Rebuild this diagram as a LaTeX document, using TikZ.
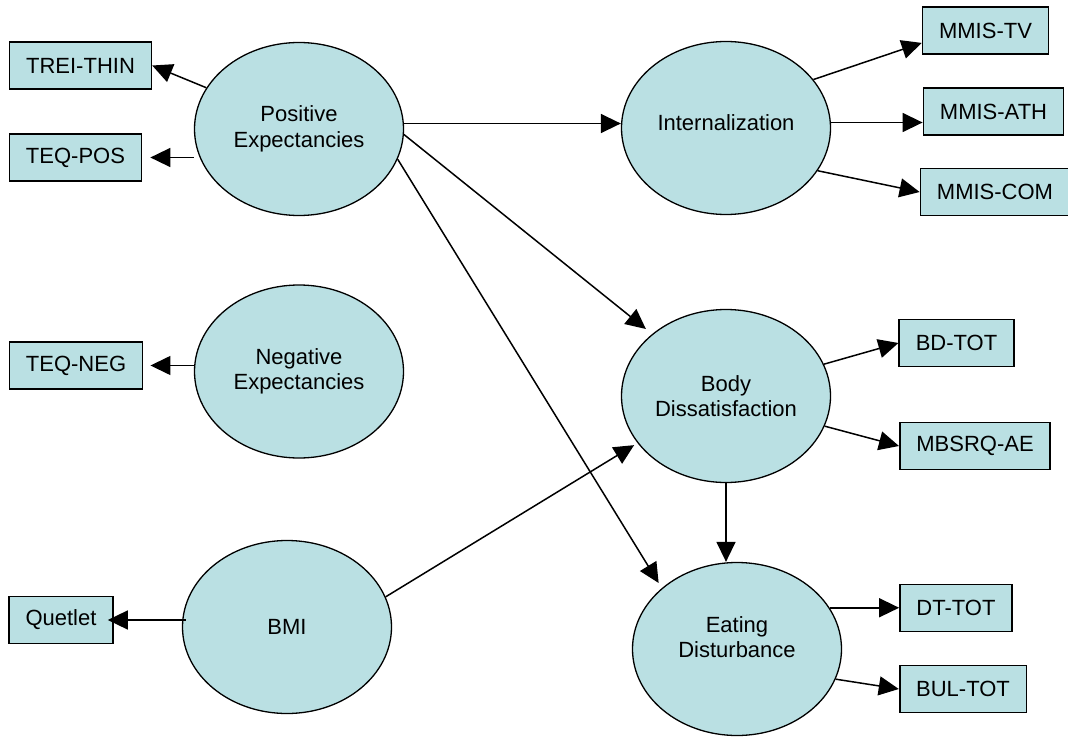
\documentclass[tikz,border=0pt]{standalone}
\usepackage{fontspec}
\setmainfont{Liberation Sans}
\usetikzlibrary{shapes.geometric,arrows.meta}
\definecolor{fillc}{RGB}{186,224,227}
\begin{document}
\begin{tikzpicture}[x=1pt,y=-1pt,
  txt/.style={align=center,font=\fontsize{22}{25.5}\selectfont},
  latent/.style={ellipse,draw,line width=1.3pt,fill=fillc,minimum width=209pt,minimum height=173pt,inner sep=0pt,txt},
  obs/.style={rectangle,draw,line width=1.7pt,fill=fillc,minimum height=47pt,inner xsep=16.5pt,inner ysep=0pt,txt},
  arr/.style={line width=1.5pt,-{Triangle[length=20pt,width=19pt]}}]
\path[use as bounding box] (0,0) rectangle (1068,738);

% latent variables
\node[latent] (pe)  at (299,129) {Positive\\Expectancies};
\node[latent] (ne)  at (299,371.5) {Negative\\Expectancies};
\node[latent] (bmi) at (287,627) {BMI};
\node[latent,label={[txt,yshift=5pt]center:Internalization}] (int) at (726,128) {};
\node[latent] (bd)  at (726,396) {Body\\Dissatisfaction};
\node[latent,label={[txt,yshift=12pt]center:Eating\\Disturbance}] (ed) at (737,649) {};

% indicators
\node[obs] (trei)    at (80.5,65.5)  {TREI-THIN};
\node[obs] (teqpos)  at (75.5,157.5) {TEQ-POS};
\node[obs] (teqneg)  at (76,365.5)   {TEQ-NEG};
\node[obs] (quetlet) at (61,620)     {Quetlet};
\node[obs] (mmistv)  at (985.5,30.5) {MMIS-TV};
\node[obs] (mmisath) at (993.5,111.5){MMIS-ATH};
\node[obs] (mmiscom) at (995,192)    {MMIS-COM};
\node[obs] (bdtot)   at (956.5,343)  {BD-TOT};
\node[obs] (mbsrq)   at (975,446)    {MBSRQ-AE};
\node[obs] (dttot)   at (956,608)    {DT-TOT};
\node[obs] (bultot)  at (963,689)    {BUL-TOT};

% measurement arrows
\draw[arr] (pe.156) -- (trei.east);
\draw[arr,shorten >=8pt] (pe.west |- teqpos.east) -- (teqpos.east);
\draw[arr,shorten >=7pt] (ne.west |- teqneg.east) -- (teqneg.east);
\draw[arr,shorten <=-4pt,shorten >=-6pt] (bmi.west |- quetlet.east) -- (quetlet.east);
\draw[arr] (int.29) -- (mmistv.191);
\draw[arr] (int.3) -- (int.3 -| mmisath.west);
\draw[arr] (int.335) -- (mmiscom.west);
\draw[arr] (bd.18) -- (bdtot.west);
\draw[arr] (bd.343) -- (mbsrq.west);
\draw[arr] (ed.24) -- (ed.24 -| dttot.west);
\draw[arr] (ed.343) -- (bultot.west);

% structural arrows
\draw[arr] (pe.3) -- (pe.3 -| int.west);
\draw[arr,shorten >=8pt] (pe.357) -- (bd.140);
\draw[arr,shorten >=6pt] (pe.343) -- (ed.141);
\draw[arr,shorten >=4pt] (bmi.17) -- (bd.208);
\draw[arr] (bd.south) -- (bd.south |- ed.north);
\end{tikzpicture}
\end{document}
